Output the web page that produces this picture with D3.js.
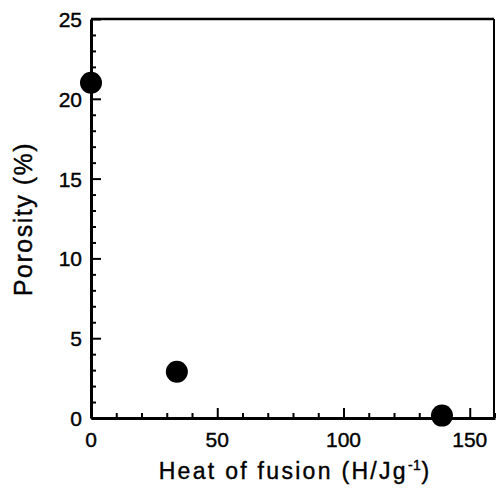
<!DOCTYPE html>
<html>
<head>
<meta charset="utf-8">
<script src="https://cdn.jsdelivr.net/npm/d3@7"></script>
<style>
  body { margin: 0; background: #fff; }
  text { font-family: "Liberation Sans", Arial, sans-serif; fill: #000; }
</style>
</head>
<body>
<svg id="chart" width="496" height="488"></svg>
<script>
var heatOfFusion = [0, 34, 139];
var porosity = [21, 2.9, 0.15];
var xTicks = [0, 50, 100, 150];
var yTicks = [0, 5, 10, 15, 20, 25];

var svg = d3.select('#chart'),
    plotLeft = 91, plotRight = 494, plotTop = 19, plotBottom = 418;

var x = d3.scaleLinear().domain([0, 160]).range([plotLeft, 495]);
var y = d3.scaleLinear().domain([0, 25]).range([plotBottom, plotTop]);

// frame
svg.append('line').attr('x1', plotLeft).attr('x2', plotRight).attr('y1', plotTop).attr('y2', plotTop)
    .attr('stroke', '#000').attr('stroke-width', 2.5);
svg.append('line').attr('x1', plotRight).attr('x2', plotRight).attr('y1', plotTop).attr('y2', plotBottom)
    .attr('stroke', '#000').attr('stroke-width', 2);

// x axis, ticks pointing in
var xAxis = svg.append('g').attr('transform', 'translate(0,' + plotBottom + ')')
    .call(d3.axisBottom(x).tickValues(d3.range(0, 161, 10)).tickSize(0).tickFormat(''));
xAxis.select('.domain').attr('stroke-width', 3);
xAxis.selectAll('.tick line')
    .attr('y2', function(d) { return d % 50 === 0 ? -10 : -5; })
    .attr('stroke-width', 2);

svg.append('g').selectAll('text').data(xTicks).enter().append('text')
    .attr('x', function(d) { return x(d); })
    .attr('y', 447)
    .attr('text-anchor', 'middle')
    .style('font-size', '21px')
    .style('stroke', '#000').style('stroke-width', 0.4)
    .text(function(d) { return d; });

// y axis
var yAxis = svg.append('g').attr('transform', 'translate(' + plotLeft + ',0)')
    .call(d3.axisLeft(y).tickValues(d3.range(0, 26, 1)).tickSize(0).tickFormat(''));
yAxis.select('.domain').attr('stroke-width', 3);
yAxis.selectAll('.tick line')
    .attr('x2', function(d) { return d % 5 === 0 ? 10 : 5; })
    .attr('stroke-width', 2);

svg.append('g').selectAll('text').data(yTicks).enter().append('text')
    .attr('x', 82)
    .attr('y', function(d) { return y(d) + 8; })
    .attr('text-anchor', 'end')
    .style('font-size', '21px')
    .style('stroke', '#000').style('stroke-width', 0.4)
    .text(function(d) { return d; });

// titles
var xt = svg.append('text')
    .attr('x', 295).attr('y', 479)
    .attr('text-anchor', 'middle')
    .style('font-size', '23px')
    .style('letter-spacing', '2.3px')
    .style('stroke', '#000').style('stroke-width', 0.4);
xt.append('tspan').text('Heat of fusion (H/Jg');
xt.append('tspan').attr('dy', -9).style('font-size', '14px').style('letter-spacing', '0.5px').text('-1');
xt.append('tspan').attr('dy', 9).text(')');

svg.append('text')
    .attr('transform', 'translate(32,' + 219 + ') rotate(-90)')
    .attr('text-anchor', 'middle')
    .style('font-size', '25px')
    .style('letter-spacing', '1.5px')
    .style('stroke', '#000').style('stroke-width', 0.4)
    .text('Porosity (%)');

// points
svg.append('g').selectAll('circle').data(heatOfFusion).enter().append('circle')
    .attr('cx', function(d) { return x(d); })
    .attr('cy', function(d, i) { return y(porosity[i]); })
    .attr('r', 11)
    .attr('fill', '#000');
</script>
</body>
</html>
